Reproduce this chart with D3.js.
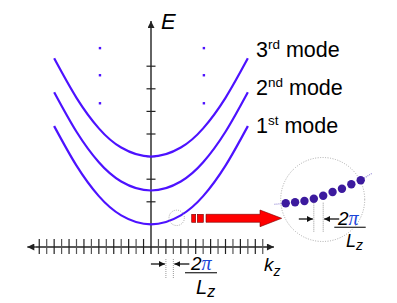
<!DOCTYPE html>
<html>
<head>
<meta charset="utf-8">
<script src="https://cdn.jsdelivr.net/npm/d3@7"></script>
<style>
  body { margin: 0; background: #fff; }
  svg { display: block; font-family: "Liberation Sans", Arial, sans-serif; }
</style>
</head>
<body>
<svg id="chart" width="397" height="303"></svg>
<script>
// data (k in units of 2pi/Lz, E in tick units)
const kTicks = [-15,-14,-13,-12,-11,-10,-9,-8,-7,-6,-5,-4,-3,-2,-1,1,2,3,4,5,6,7,8,9,10,11,12,13,14,15];
const eTicks = [1, 2, 3, 4, 5, 6, 7, 8];
const kPts = [-13, -10, -7, -4, 0, 4, 7, 10, 13];
const mode1 = [5.35, 3.6, 2.25, 1.4, 1.0, 1.4, 2.25, 3.6, 5.35];
const mode2 = [6.85, 5.1, 3.75, 2.9, 2.5, 2.9, 3.75, 5.1, 6.85];
const mode3 = [8.35, 6.6, 5.25, 4.4, 4.0, 4.4, 5.25, 6.6, 8.35];
const modeNum = ["3", "2", "1"];
const modeSup = ["rd", "nd", "st"];
const modeLabelE = [8.4, 6.72, 5.04];
const dotK = [-6.85, 7.1];
const dotE = [8.8, 7.6, 6.36];
// zoomed inset: discrete states
const insetIdx = [0, 1, 2, 3, 4, 5, 6, 7, 8];
const insetE = [0, 1, 2.3, 4.6, 7.6, 11.3, 14.6, 19, 23];

const svg = d3.select("#chart");
const blue = "#4d12ff";
const axisCol = "#222";

const x = d3.scaleLinear().domain([-15, 15]).range([39.25, 262.75]);
const y = d3.scaleLinear().domain([0, 8]).range([247, 66.2]);

// arrow markers
const defs = svg.append("defs");
defs.append("marker").attr("id", "ah")
  .attr("viewBox", "0 0 10 10").attr("refX", 10).attr("refY", 5)
  .attr("markerWidth", 8).attr("markerHeight", 7).attr("markerUnits", "userSpaceOnUse")
  .attr("orient", "auto")
  .append("path").attr("d", "M0,0 L10,5 L0,10 z").attr("fill", axisCol);
defs.append("marker").attr("id", "sm")
  .attr("viewBox", "0 0 10 10").attr("refX", 10).attr("refY", 5)
  .attr("markerWidth", 6).attr("markerHeight", 6).attr("markerUnits", "userSpaceOnUse")
  .attr("orient", "auto")
  .append("path").attr("d", "M0,0 L10,5 L0,10 z").attr("fill", "#111");

// k axis
svg.append("line")
  .attr("x1", x(-15) - 4).attr("x2", x(-16.6)).attr("y1", y(0)).attr("y2", y(0))
  .attr("stroke", axisCol).attr("stroke-width", 1.4).attr("marker-end", "url(#ah)");
svg.append("line")
  .attr("x1", x(-15) - 4).attr("x2", x(16.5)).attr("y1", y(0)).attr("y2", y(0))
  .attr("stroke", axisCol).attr("stroke-width", 1.4).attr("marker-end", "url(#ah)");
svg.append("g").selectAll("line").data(kTicks).join("line")
  .attr("x1", d => x(d)).attr("x2", d => x(d))
  .attr("y1", y(0) - 8).attr("y2", y(0) + 7)
  .attr("stroke", (d, i) => i % 2 ? "#555" : "#222").attr("stroke-width", 1.2);

// E axis
svg.append("line")
  .attr("x1", x(0)).attr("x2", x(0)).attr("y1", y(0) + 7).attr("y2", 21)
  .attr("stroke", axisCol).attr("stroke-width", 1.4).attr("marker-end", "url(#ah)");
svg.append("g").selectAll("line").data(eTicks).join("line")
  .attr("x1", x(0) - 4.5).attr("x2", x(0) + 4.5)
  .attr("y1", d => y(d)).attr("y2", d => y(d))
  .attr("stroke", axisCol).attr("stroke-width", 1.2);

// dispersion curves
const line = d3.line().x((d, i) => x(kPts[i])).y(d => y(d)).curve(d3.curveNatural);
svg.append("g").selectAll("path").data([mode1, mode2, mode3]).join("path")
  .attr("d", line).attr("fill", "none").attr("stroke", blue).attr("stroke-width", 2.2);

// vertical ellipsis dots
dotK.forEach(k => {
  svg.append("g").selectAll("rect").data(dotE).join("rect")
    .attr("x", x(k) - 1.2).attr("y", d => y(d) - 1.2).attr("width", 2.4).attr("height", 2.4)
    .attr("fill", blue);
});

// axis labels
svg.append("text").attr("x", 161).attr("y", 28.5)
  .attr("font-size", 22).attr("font-style", "italic").text("E");
const kl = svg.append("text").attr("x", 264).attr("y", 271)
  .attr("font-size", 19).attr("font-style", "italic");
kl.append("tspan").text("k");
kl.append("tspan").attr("font-size", 14).attr("dy", 5).text("z");

// mode labels
modeNum.forEach((n, i) => {
  const t = svg.append("text").attr("x", 256).attr("y", y(modeLabelE[i]))
    .attr("font-size", 21.5).attr("fill", "#000");
  t.append("tspan").text(n);
  t.append("tspan").attr("font-size", 13.5).attr("dy", -8).text(modeSup[i]);
  t.append("tspan").attr("dy", 8).text(" mode");
});

// spacing annotation (2pi/Lz)
function spacing(g, xa, xb, yArrow, yTop, yBot, o) {
  g.append("line").attr("x1", xa - 15).attr("x2", xa - 1).attr("y1", yArrow).attr("y2", yArrow)
    .attr("stroke", "#111").attr("stroke-width", 1.3).attr("marker-end", "url(#sm)");
  g.append("line").attr("x1", xb + 16).attr("x2", xb + 1).attr("y1", yArrow).attr("y2", yArrow)
    .attr("stroke", "#111").attr("stroke-width", 1.3).attr("marker-end", "url(#sm)");
  [xa, xb].forEach(xx => g.append("line").attr("x1", xx).attr("x2", xx)
    .attr("y1", yTop).attr("y2", yBot)
    .attr("stroke", "#999").attr("stroke-width", 1).attr("stroke-dasharray", "1,1"));
  const num = g.append("text").attr("x", o.numX).attr("y", yArrow + o.numDy).attr("font-size", o.fs);
  num.append("tspan").attr("font-style", "italic").text("2");
  num.append("tspan").attr("font-family", "Liberation Serif").attr("font-style", "italic")
    .attr("font-size", o.fs + 1).attr("fill", "#1c46d8").text("π");
  g.append("line").attr("x1", o.barX).attr("x2", o.barX + o.barW)
    .attr("y1", yArrow + o.barDy).attr("y2", yArrow + o.barDy)
    .attr("stroke", "#333").attr("stroke-width", 1.3);
  const den = g.append("text").attr("x", o.denX).attr("y", yArrow + o.denDy).attr("font-size", o.dfs)
    .attr("font-style", "italic");
  den.append("tspan").text("L");
  den.append("tspan").attr("font-size", o.dfs - 4).attr("dy", 3).text("z");
}
spacing(svg.append("g"), x(2), x(3), 264, 259, 278,
  { numX: 191, numDy: 6, fs: 19, barX: 185, barW: 32, barDy: 8.7, denX: 196, denDy: 29.5, dfs: 20 });

// small zoom circle
svg.append("circle").attr("cx", x(3.45)).attr("cy", y(1.29)).attr("r", 7.7)
  .attr("fill", "none").attr("stroke", "#aaa").attr("stroke-width", 1).attr("stroke-dasharray", "1,1.2");

// red arrow
svg.append("rect").attr("x", 191.7).attr("y", 214.3).attr("width", 4).attr("height", 8)
  .attr("fill", "#f00").attr("stroke", "#700").attr("stroke-width", 0.6);
svg.append("rect").attr("x", 197.3).attr("y", 214.3).attr("width", 6).attr("height", 8)
  .attr("fill", "#f00").attr("stroke", "#700").attr("stroke-width", 0.6);
svg.append("path")
  .attr("d", "M206,214.3 L260,214.3 L260,210 L281.7,218.3 L260,226.7 L260,222.3 L206,222.3 Z")
  .attr("fill", "#f00").attr("stroke", "#700").attr("stroke-width", 0.6);

// inset: magnified discrete states
const xi = d3.scaleLinear().domain([0, 8]).range([285.7, 360.7]);
const yi = d3.scaleLinear().domain([0, 23]).range([203.3, 180.3]);
svg.append("circle").attr("cx", 322.7).attr("cy", 199.5).attr("r", 42)
  .attr("fill", "none").attr("stroke", "#aaa").attr("stroke-width", 1).attr("stroke-dasharray", "1,1.5");
svg.append("line").attr("x1", xi(-1.2)).attr("y1", yi(-1)).attr("x2", xi(0)).attr("y2", yi(0))
  .attr("stroke", "#9b90d8").attr("stroke-width", 1.2).attr("stroke-dasharray", "1,1");
svg.append("line").attr("x1", xi(8)).attr("y1", yi(23)).attr("x2", xi(9.2)).attr("y2", yi(30))
  .attr("stroke", "#9b90d8").attr("stroke-width", 1.2).attr("stroke-dasharray", "1,1");
svg.append("g").selectAll("circle").data(insetIdx).join("circle")
  .attr("cx", d => xi(d)).attr("cy", (d, i) => yi(insetE[i])).attr("r", 4.2)
  .attr("fill", "#3c1a9e");
spacing(svg.append("g"), xi(3), xi(4), 219, yi(insetE[3]) + 4, 232,
  { numX: 338, numDy: 5.5, fs: 19, barX: 334.3, barW: 31.4, barDy: 8.3, denX: 346, denDy: 27.5, dfs: 18 });
</script>
</body>
</html>
